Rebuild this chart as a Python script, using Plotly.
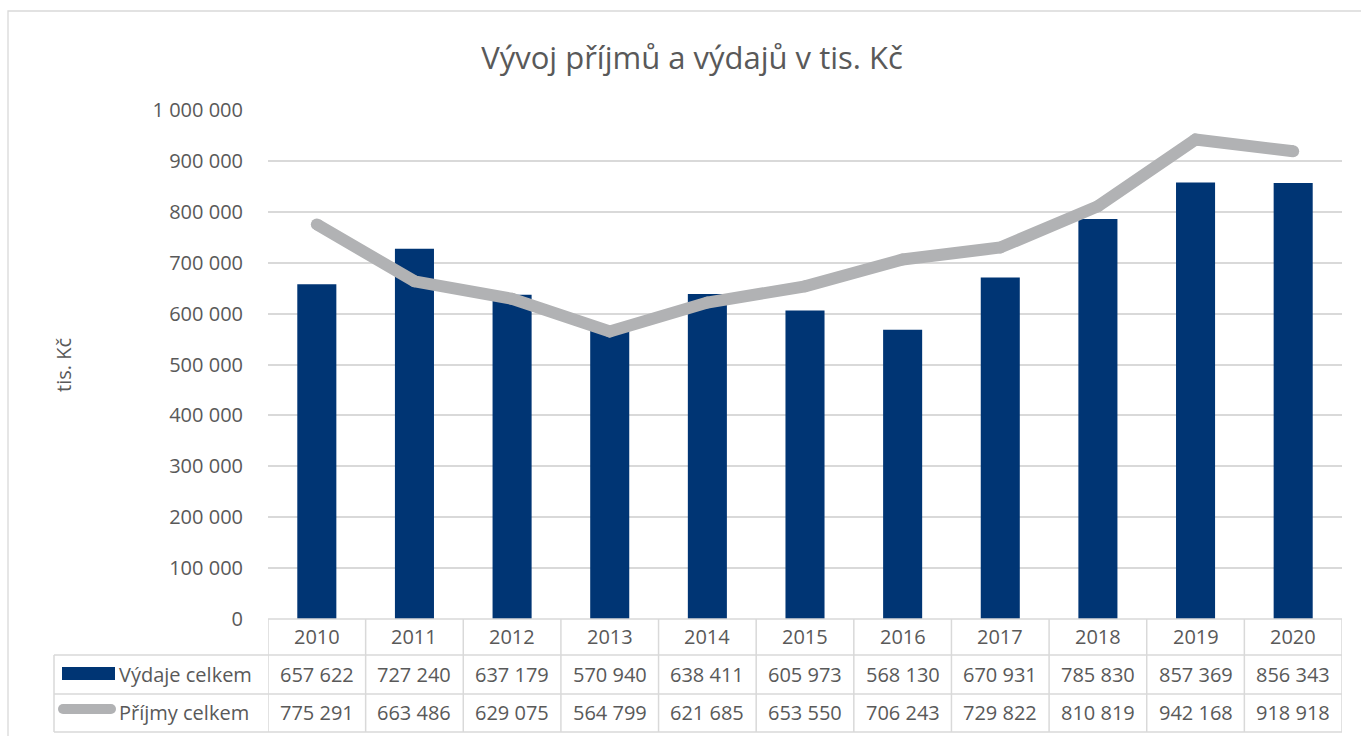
import plotly.graph_objects as go

years = ["2010", "2011", "2012", "2013", "2014", "2015", "2016", "2017", "2018", "2019", "2020"]
vydaje = [657622, 727240, 637179, 570940, 638411, 605973, 568130, 670931, 785830, 857369, 856343]
prijmy = [775291, 663486, 629075, 564799, 621685, 653550, 706243, 729822, 810819, 942168, 918918]
series_names = ["Výdaje celkem", "Příjmy celkem"]
title_text = "Vývoj příjmů a výdajů v tis. Kč"
y_title = "tis. Kč"

FONT = "Open Sans"
TXT = "#595959"
GRID = "#D9D9D9"
BAR = "#003574"
LINE = "#B1B2B4"
FS = 20

W, H = 1361, 736
L, R, T, B = 268, 19, 110, 117
pw = W - L - R
ph = H - T - B


def px_x(x):
    return (x - L) / pw


def px_y(y):
    return (H - B - y) / ph


def fmt(v):
    return f"{v:,}".replace(",", " ")


fig = go.Figure()
fig.add_trace(go.Bar(x=years, y=vydaje, name=series_names[0], marker_color=BAR,
                     marker_line_width=0))
fig.add_trace(go.Scatter(x=years, y=prijmy, name=series_names[1], mode="lines+markers",
                         line=dict(color=LINE, width=12),
                         marker=dict(color=LINE, size=12, line=dict(width=0))))

shapes = []
annotations = []

# table grid
row_lines = [655, 694, 732]
shapes.append(dict(type="line", xref="paper", yref="paper", x0=0, x1=1, y0=0, y1=0,
                   line=dict(color=GRID, width=1.5)))
for ry in row_lines:
    shapes.append(dict(type="line", xref="paper", yref="paper", x0=px_x(54), x1=1,
                       y0=px_y(ry), y1=px_y(ry), line=dict(color=GRID, width=1.5)))
for i in range(len(years) + 1):
    shapes.append(dict(type="line", xref="x", yref="paper", x0=i - 0.5, x1=i - 0.5,
                       y0=0, y1=px_y(732), line=dict(color=GRID, width=1.5)))
shapes.append(dict(type="line", xref="paper", yref="paper", x0=px_x(54), x1=px_x(54),
                   y0=px_y(655), y1=px_y(732), line=dict(color=GRID, width=1.5)))

# legend keys
shapes.append(dict(type="rect", xref="paper", yref="paper", x0=px_x(62), x1=px_x(115),
                   y0=px_y(680), y1=px_y(667), fillcolor=BAR, line=dict(width=0)))
shapes.append(dict(type="line", xref="paper", yref="paper", x0=px_x(63), x1=px_x(111),
                   y0=px_y(709), y1=px_y(709), line=dict(color=LINE, width=10)))
for cx in (63, 111):
    shapes.append(dict(type="circle", xref="paper", yref="paper",
                       x0=px_x(cx - 5), x1=px_x(cx + 5), y0=px_y(714), y1=px_y(704),
                       fillcolor=LINE, line=dict(width=0)))

# outer chart border
shapes.append(dict(type="rect", xref="paper", yref="paper", x0=px_x(8), x1=px_x(1370),
                   y0=px_y(745), y1=px_y(11), line=dict(color=GRID, width=1.3),
                   fillcolor="rgba(0,0,0,0)", layer="below"))

tfont = dict(family=FONT, size=FS, color=TXT)
for i, yr in enumerate(years):
    annotations.append(dict(x=i, y=px_y(636), xref="x", yref="paper", text=yr,
                            xanchor="center", yanchor="middle", showarrow=False, font=tfont))
    annotations.append(dict(x=i, y=px_y(674), xref="x", yref="paper", text=fmt(vydaje[i]),
                            xanchor="center", yanchor="middle", showarrow=False, font=tfont))
    annotations.append(dict(x=i, y=px_y(712), xref="x", yref="paper", text=fmt(prijmy[i]),
                            xanchor="center", yanchor="middle", showarrow=False, font=tfont))

annotations.append(dict(x=px_x(117), y=px_y(674), xref="paper", yref="paper",
                        text=series_names[0], xanchor="left", yanchor="middle",
                        showarrow=False, font=tfont))
annotations.append(dict(x=px_x(117), y=px_y(712), xref="paper", yref="paper",
                        text=series_names[1], xanchor="left", yanchor="middle",
                        showarrow=False, font=tfont))
annotations.append(dict(x=px_x(63), y=px_y(365), xref="paper", yref="paper",
                        text=y_title, textangle=-90, xanchor="center", yanchor="middle",
                        showarrow=False, font=tfont))

fig.update_layout(
    width=W, height=H,
    margin=dict(l=L, r=R, t=T, b=B),
    paper_bgcolor="white", plot_bgcolor="white",
    separators=", ",
    showlegend=False,
    bargap=0.6,
    title=dict(text=title_text, x=692 / W, xref="container", xanchor="center",
               y=1 - 58 / H, yref="container", yanchor="middle",
               font=dict(family=FONT, size=31, color=TXT)),
    xaxis=dict(type="category", showticklabels=False, showgrid=False, showline=False,
               zeroline=False, range=[-0.5, len(years) - 0.5]),
    yaxis=dict(range=[0, 1000000], dtick=100000, tickformat=",d",
               showgrid=True, gridcolor=GRID, gridwidth=1.5, zeroline=False,
               showline=False, ticks="outside", ticklen=20, tickcolor="rgba(0,0,0,0)",
               tickfont=tfont),
    shapes=shapes,
    annotations=annotations,
)

fig.write_html("out.html", config={"displayModeBar": False},
               post_script="document.body.style.margin='0';")
